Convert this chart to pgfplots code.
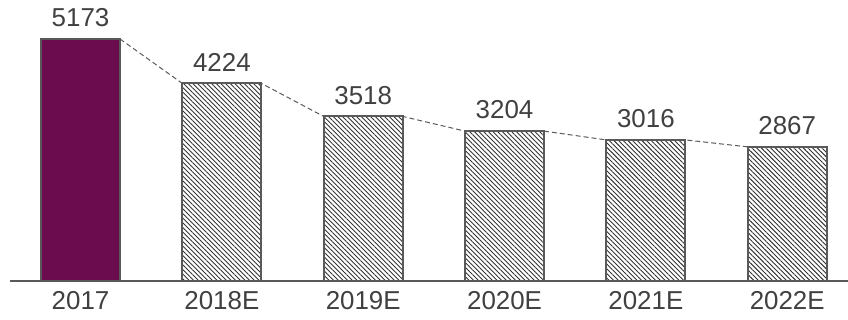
\documentclass[border=0pt]{standalone}
\usepackage{pgfplots}
\pgfplotsset{compat=1.18}
\usepackage{fontspec}
\setmainfont{Liberation Sans}
\usetikzlibrary{patterns.meta,calc}
\definecolor{barpurple}{RGB}{106,12,78}
\definecolor{edgegray}{RGB}{89,89,89}
\definecolor{txt}{RGB}{64,64,64}
\begin{document}
\begin{tikzpicture}
\begin{axis}[
  scale only axis, width=419bp, height=140.5bp,
  xmin=-0.499, xmax=5.43, ymin=0, ymax=6007,
  axis x line=bottom, axis y line=none,
  axis line style={-, edgegray, line width=0.8bp},
  xtick={0,1,2,3,4,5},
  xticklabels={2017,2018E,2019E,2020E,2021E,2022E},
  major tick length=0pt,
  xticklabel style={font=\fontsize{13}{15}\selectfont, text=txt, inner sep=0pt, anchor=north, yshift=-5bp},
  /pgf/number format/.cd, 1000 sep={}, assume math mode=true, fixed, precision=0, /pgfplots/.cd,
  clip=false,
]
\addplot[edgegray, line width=0.5bp, dash pattern=on 2.5bp off 1.5bp, no marks] coordinates {
  (0.2795,5173) (0.7205,4224) (1.2795,4224) (1.7205,3518) (2.2795,3518)
  (2.7205,3204) (3.2795,3204) (3.7205,3016) (4.2795,3016) (4.7205,2867)
};
\addplot[ybar, bar width=0.559, bar shift=0, fill=barpurple, draw=edgegray, line width=1bp,
  nodes near coords, nodes near coords style={font=\fontsize{13}{15}\selectfont, text=txt, inner sep=0pt, anchor=south, yshift=5.5bp}]
  coordinates {(0,5173)};
\addplot[ybar, bar width=0.559, bar shift=0, draw=edgegray, line width=1bp,
  pattern={Lines[angle=-45, distance=1.65bp, line width=0.45bp]}, pattern color=black!80,
  nodes near coords, nodes near coords style={font=\fontsize{13}{15}\selectfont, text=txt, inner sep=0pt, anchor=south, yshift=5.5bp}]
  coordinates {(1,4224) (2,3518) (3,3204) (4,3016) (5,2867)};
\end{axis}
\pgfresetboundingbox
\path ($(current axis.south west)+(-5bp,-19.5bp)$) rectangle (current axis.north east);
\end{tikzpicture}
\end{document}
